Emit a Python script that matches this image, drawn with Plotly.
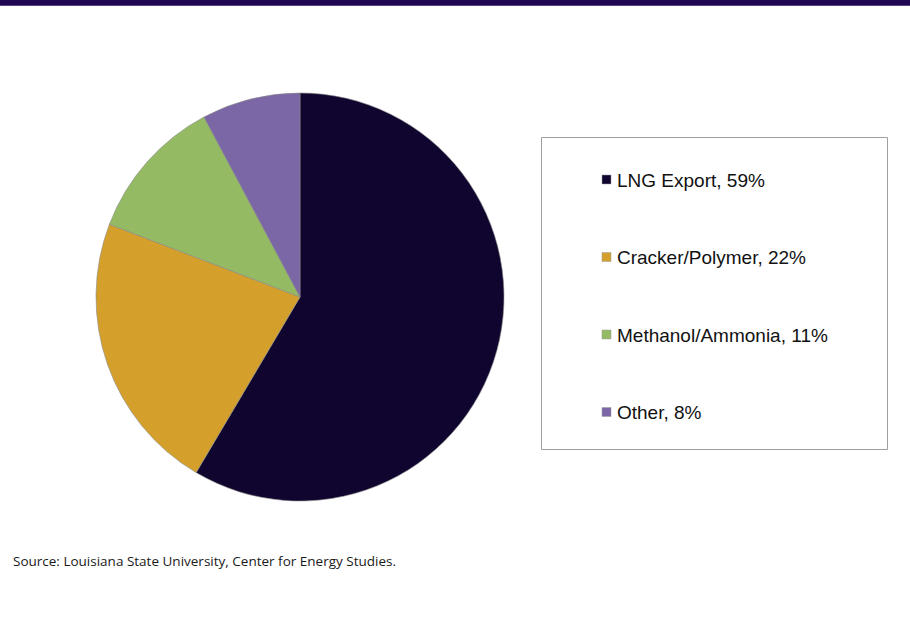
import plotly.graph_objects as go

labels = ["LNG Export", "Cracker/Polymer", "Methanol/Ammonia", "Other"]
values = [58.5, 22.3, 11.4, 7.8]
# percentages as printed in the legend
legend_pct = [59, 22, 11, 8]
colors = ["#10052f", "#d4a02b", "#94ba63", "#7b66a6"]
source_text = "Source: Louisiana State University, Center for Energy Studies."

W, H = 910, 620

fig = go.Figure()
fig.add_trace(go.Pie(
    labels=labels, values=values, sort=False, direction="clockwise", rotation=0,
    marker=dict(colors=colors, line=dict(color="#8a8a8a", width=0.6)),
    textinfo="none", hoverinfo="label+percent", showlegend=False,
    domain=dict(x=[96 / W, 504 / W], y=[1 - 501 / H, 1 - 93 / H]),
))

shapes = [
    dict(type="rect", xref="x", yref="y", x0=0, x1=W, y0=0, y1=5.7,
         fillcolor="#200754", line=dict(width=0), layer="above"),
    dict(type="rect", xref="x", yref="y", x0=541.5, x1=887.5, y0=137.5, y1=449.5,
         fillcolor="rgba(0,0,0,0)", line=dict(color="#a0a0a0", width=1)),
]
annotations = []
row_y = [180, 257.5, 335, 412.5]
for lab, pct, col, yy in zip(labels, legend_pct, colors, row_y):
    shapes.append(dict(type="rect", xref="x", yref="y", x0=602, x1=611, y0=yy - 5, y1=yy + 4,
                       fillcolor=col, line=dict(color="#9a9a9a", width=0.5)))
    annotations.append(dict(x=615, y=yy, xref="x", yref="y", xanchor="left", yanchor="middle",
                            text=f"{lab}, {pct}%", showarrow=False,
                            font=dict(family="Liberation Sans, Arial", size=19, color="#111111")))
annotations.append(dict(x=11, y=561, xref="x", yref="y", xanchor="left", yanchor="middle",
                        text=source_text, showarrow=False,
                        font=dict(family="Open Sans", size=13.5, color="#1a1a1a")))

fig.update_layout(
    width=W, height=H, margin=dict(l=0, r=0, t=0, b=0),
    paper_bgcolor="white", plot_bgcolor="white",
    xaxis=dict(range=[0, W], visible=False, fixedrange=True),
    yaxis=dict(range=[H, 0], visible=False, fixedrange=True),
    shapes=shapes, annotations=annotations,
)
fig.write_html("out.html", config={"displayModeBar": False},
               post_script="document.body.style.margin='0';document.body.style.padding='0';document.body.style.overflow='hidden';")
